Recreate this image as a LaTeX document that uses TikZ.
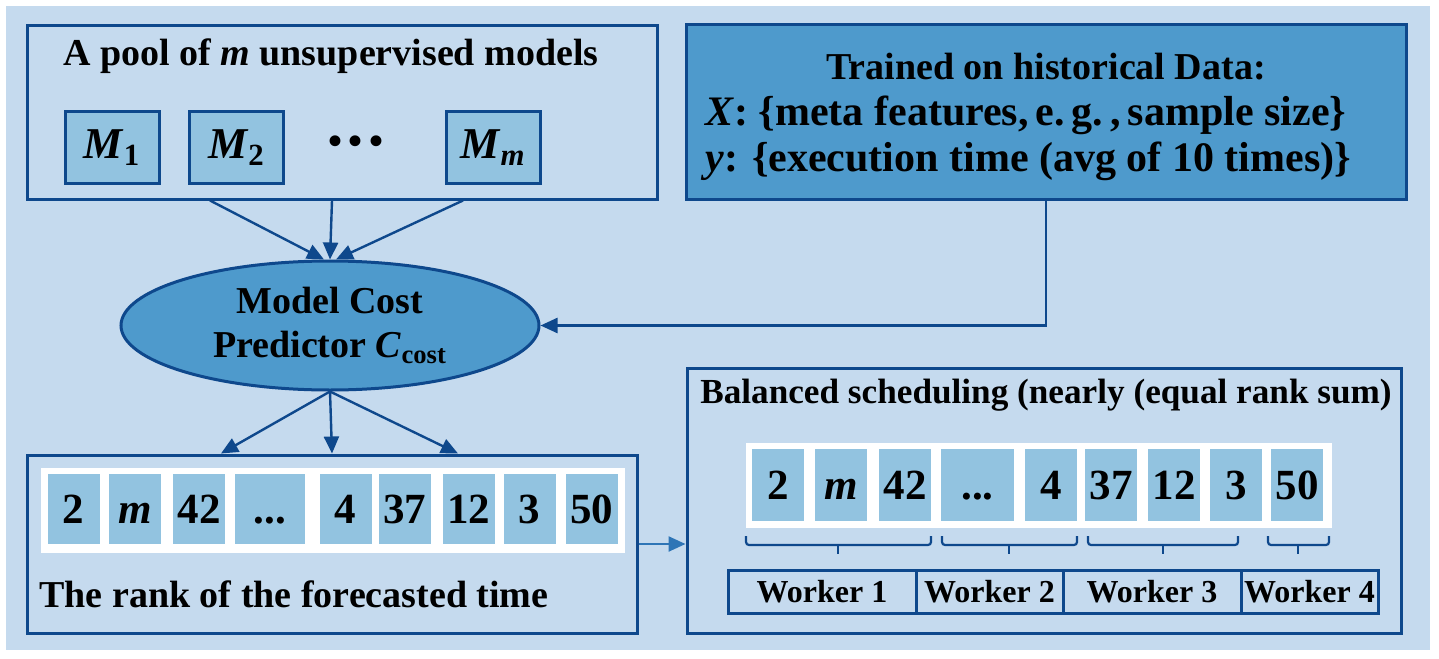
\documentclass[tikz,border=0pt]{standalone}
\usepackage{fontspec}
\setmainfont{Liberation Serif}
\usetikzlibrary{shapes.geometric,arrows.meta}
\definecolor{bgc}{RGB}{197,218,238}
\definecolor{bdr}{RGB}{14,72,140}
\definecolor{midc}{RGB}{78,154,204}
\definecolor{cellc}{RGB}{146,195,224}
\definecolor{arrlight}{RGB}{46,117,182}
\newcommand\ttlfont{\fontsize{19}{23}\selectfont\bfseries}
\newcommand\digfont{\fontsize{21.5}{24}\selectfont\bfseries}
\newcommand\mfont{\fontsize{22}{24}\selectfont\bfseries}
\newcommand\xfont{\fontsize{21}{24}\selectfont\bfseries}
\newcommand\wfont{\fontsize{16}{18}\selectfont\bfseries}
\newcommand\dotsfont{\fontsize{20}{20}\selectfont\bfseries}
\newcommand\balfont{\fontsize{17.6}{22}\selectfont\bfseries}
\begin{document}
\begin{tikzpicture}[x=0.5pt,y=-0.5pt,
  frame/.style={draw=bdr,line width=1.5pt,fill=bgc,inner sep=0pt},
  mbox/.style={draw=bdr,line width=1.5pt,fill=cellc,inner sep=0pt,minimum width=47pt,minimum height=35.5pt,font=\mfont},
  strip/.style={fill=white,inner sep=0pt,minimum height=42.5pt},
  cell/.style={fill=cellc,inner sep=0pt,minimum height=35pt,minimum width=26pt,font=\digfont,text height=14.5pt,text depth=0pt},
  wbox/.style={draw=bdr,line width=1.5pt,fill=bgc,inner sep=0pt,minimum height=21.5pt,font=\wfont},
  lbl/.style={inner sep=0pt,font=\ttlfont},
  arr/.style={draw=bdr,line width=1.2pt,-{Triangle[length=8.5pt,width=7.5pt]}},
  brk/.style={draw=bdr,line width=1.1pt,rounded corners=1.5pt}]
\useasboundingbox (0,0) rectangle (1439,658);
\fill[bgc] (6,6) rectangle (1430,650);

% pool of models
\node[frame,minimum width=315pt,minimum height=86.5pt] (pool) at (342,112.5) {};
\node[lbl,anchor=base] (pooltitle) at (331,66) {A pool of \textit{m} unsupervised models};
\node[mbox] (m1) at (112,147.5) {\textit{M}\textsubscript{1}};
\node[mbox] (m2) at (236.5,147.5) {\textit{M}\textsubscript{2}};
\node[inner sep=0pt,font=\dotsfont] (mdots) at (356,145) {•\,•\,•};
\node[mbox] (mm) at (493,147.5) {\textit{M}\textsubscript{\textit{m}}};

% training data
\node[draw=bdr,line width=1.5pt,fill=midc,inner sep=0pt,minimum width=360pt,minimum height=87pt] (trained) at (1046,112) {};
\node[lbl,anchor=base] (trtitle) at (1046,80) {Trained on historical Data:};
\node[inner sep=0pt,font=\xfont,anchor=base west] (xline) at (705,126) {\textit{X}: \{meta features,\,e.\,g.\,,\,sample size\}};
\node[inner sep=0pt,font=\xfont,anchor=base west] (yline) at (705,171) {\textit{y}: \{execution time (avg of 10 times)\}};

% cost predictor
\node[ellipse,draw=bdr,line width=1.5pt,fill=midc,inner sep=0pt,minimum width=209pt,minimum height=64.5pt,font=\ttlfont,align=center] (cost) at (330,325.5)
  {Model Cost\\[-1pt]Predictor \textit{C}\textsubscript{cost}};

\draw[arr] ([xshift=-66pt]pool.south) -- ([xshift=-3pt]cost.north);
\draw[arr] ([xshift=-5pt]pool.south) -- (cost.north);
\draw[arr] ([xshift=60.5pt]pool.south) -- ([xshift=3pt]cost.north);
\draw[arr] (trained.south) |- (cost.east);

% rank box
\node[frame,minimum width=305pt,minimum height=89pt] (rank) at (332,544) {};
\node[strip,minimum width=292pt] (rstrip) at (333,510.5) {};
\node[cell] (r1) at (73.5,509) {2};
\node[cell] (r2) at (135,509) {\textit{m}};
\node[cell] (r3) at (199,509) {42};
\node[cell,minimum width=35pt] (r4) at (270,509) {...};
\node[cell] (r5) at (345.5,509) {4};
\node[cell] (r6) at (404.5,509) {37};
\node[cell] (r7) at (468.5,509) {12};
\node[cell] (r8) at (529.5,509) {3};
\node[cell] (r9) at (591.5,509) {50};
\node[lbl,anchor=base west] (ranktext) at (39,607) {The rank of the forecasted time};

\draw[arr] (cost.south) -- ([xshift=-55.5pt]rank.north);
\draw[arr] (cost.south) -- (rank.north);
\draw[arr] (cost.south) -- ([xshift=63pt]rank.north);

% balanced scheduling
\node[frame,minimum width=357pt,minimum height=132.5pt] (bal) at (1044,500.5) {};
\node[lbl,anchor=base,font=\balfont] (baltitle) at (1046,403) {Balanced scheduling (nearly (equal rank sum)};
\node[strip,minimum width=293pt] (bstrip) at (1039,485.5) {};
\node[cell,minimum height=36pt] (b1) at (778,485) {2};
\node[cell,minimum height=36pt] (b2) at (841,485) {\textit{m}};
\node[cell,minimum height=36pt] (b3) at (905,485) {42};
\node[cell,minimum height=36pt,minimum width=36.5pt] (b4) at (977.5,485) {...};
\node[cell,minimum height=36pt] (b5) at (1051,485) {4};
\node[cell,minimum height=36pt] (b6) at (1111,485) {37};
\node[cell,minimum height=36pt] (b7) at (1174,485) {12};
\node[cell,minimum height=36pt] (b8) at (1236,485) {3};
\node[cell,minimum height=36pt] (b9) at (1297,485) {50};

% brackets grouping the ranks
\draw[brk] (746,536) |- (931,545) -- (931,536);
\draw[brk] (838,545) -- (838,554);
\draw[brk] (942,536) |- (1077,545) -- (1077,536);
\draw[brk] (1009,545) -- (1009,554);
\draw[brk] (1088,536) |- (1238,545) -- (1238,536);
\draw[brk] (1163,545) -- (1163,554);
\draw[brk] (1268,536) |- (1329,545) -- (1329,536);
\draw[brk] (1298,545) -- (1298,554);

\node[wbox,minimum width=94pt] (w1) at (822,591.5) {Worker 1};
\node[wbox,minimum width=73.5pt] (w2) at (989.5,591.5) {Worker 2};
\node[wbox,minimum width=89pt] (w3) at (1152,591.5) {Worker 3};
\node[wbox,minimum width=68.5pt] (w4) at (1309.5,591.5) {Worker 4};

\draw[draw=arrlight,line width=1.2pt,-{Triangle[length=8.5pt,width=7.5pt]}] (rank.east) -- (rank.east -| bal.west);
\end{tikzpicture}
\end{document}
